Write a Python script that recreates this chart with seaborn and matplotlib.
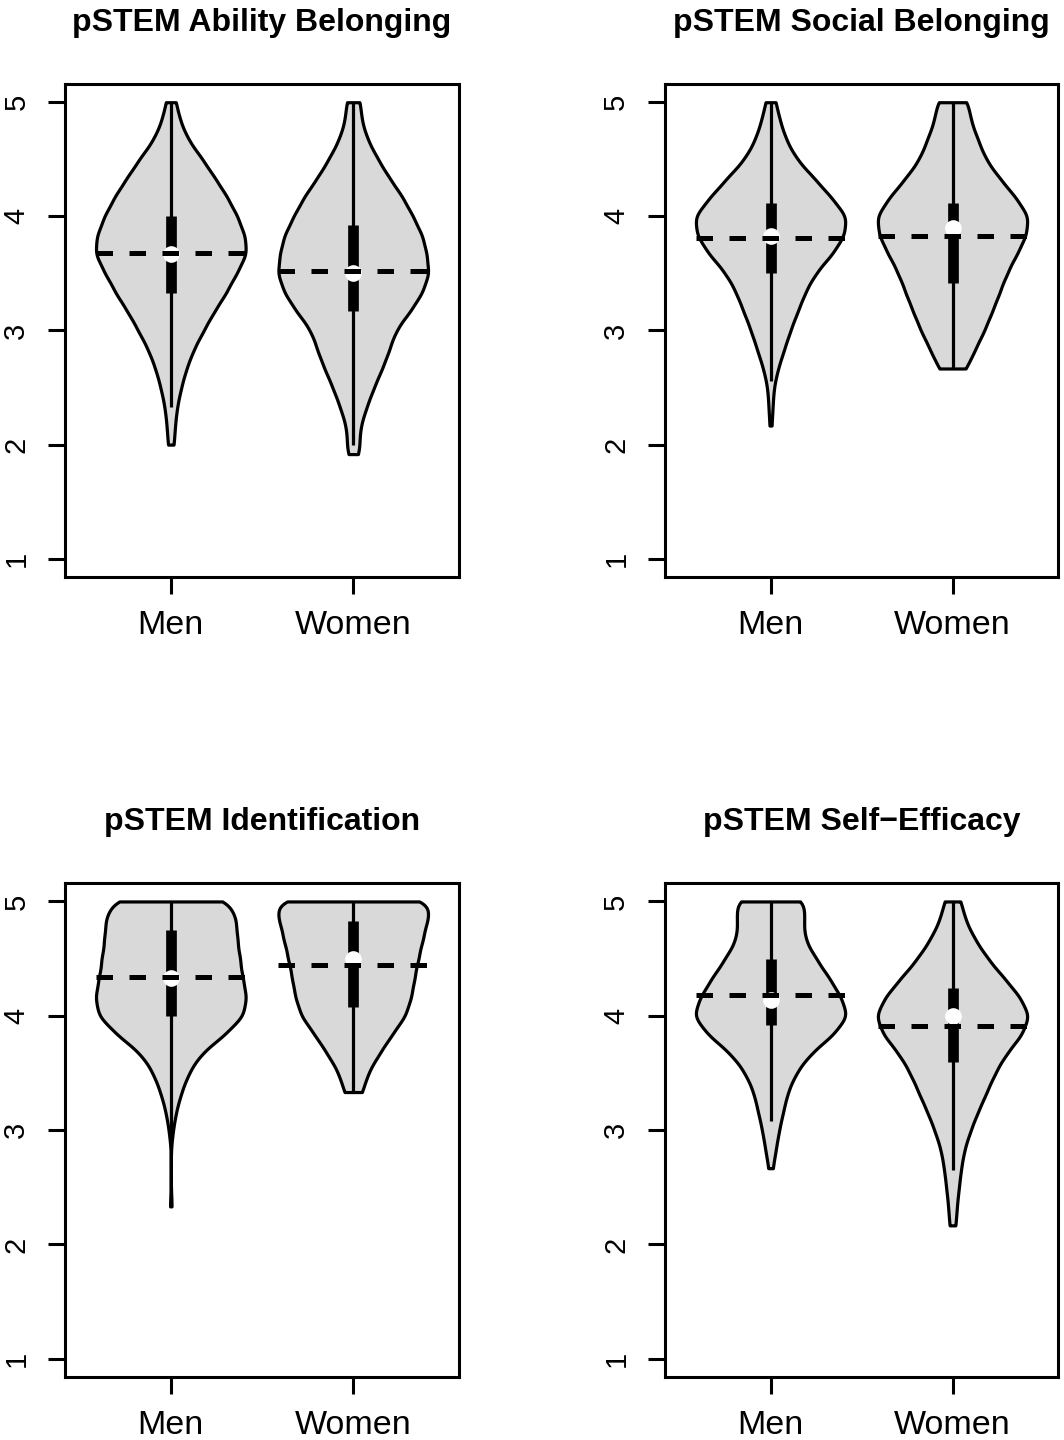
import numpy as np
import pandas as pd
import matplotlib
matplotlib.use("Agg")
import matplotlib.pyplot as plt
import seaborn as sns

TITLES = ["pSTEM Ability Belonging", "pSTEM Social Belonging",
          "pSTEM Identification", "pSTEM Self\u2212Efficacy"]
GROUPS = ["Men", "Women"]

# score levels (1/6 steps) and how often each one occurs
LEVELS = [5.0, 4.833, 4.667, 4.5, 4.333, 4.167, 4.0, 3.833, 3.667, 3.5,
          3.333, 3.167, 3.0, 2.833, 2.667, 2.5, 2.333, 2.167, 2.0, 1.917]

ABILITY_MEN = [5, 9, 17, 31, 43, 55, 65, 72, 74, 64, 54, 42, 32, 22, 15, 10, 6, 4, 3, 0]
ABILITY_WOMEN = [7, 8, 14, 24, 35, 48, 58, 67, 71, 74, 67, 55, 41, 35, 28, 20, 13, 7, 5, 3]
SOCIAL_MEN = [5, 9, 15, 25, 42, 58, 74, 71, 59, 43, 33, 26, 19, 13, 7, 3, 2, 1, 0, 0]
SOCIAL_WOMEN = [15, 17, 24, 31, 44, 59, 72, 69, 60, 51, 44, 37, 30, 21, 13, 0, 0, 0, 0, 0]
IDENT_MEN = [58, 62, 63, 66, 68, 72, 70, 51, 28, 17, 10, 5, 2, 0, 0, 0, 1, 0, 0, 0]
IDENT_WOMEN = [78, 71, 67, 63, 59, 56, 51, 37, 25, 14, 9, 0, 0, 0, 0, 0, 0, 0, 0, 0]
EFFICACY_MEN = [34, 31, 32, 43, 55, 66, 74, 59, 37, 24, 16, 12, 8, 5, 2, 0, 0, 0, 0, 0]
EFFICACY_WOMEN = [8, 12, 21, 33, 48, 63, 73, 65, 50, 40, 32, 24, 17, 11, 8, 6, 4, 3, 0, 0]

MEN_COUNTS = [ABILITY_MEN, SOCIAL_MEN, IDENT_MEN, EFFICACY_MEN]
WOMEN_COUNTS = [ABILITY_WOMEN, SOCIAL_WOMEN, IDENT_WOMEN, EFFICACY_WOMEN]

# summary stats per panel, [men, women]
MEANS = [[3.68, 3.52], [3.81, 3.83], [4.34, 4.44], [4.18, 3.91]]
MEDIANS = [[3.67, 3.50], [3.83, 3.90], [4.33, 4.50], [4.14, 4.00]]
Q1 = [[3.33, 3.17], [3.50, 3.42], [4.00, 4.08], [3.92, 3.60]]
Q3 = [[4.00, 3.92], [4.12, 4.12], [4.75, 4.83], [4.50, 4.24]]
WHISK_LO = [[2.33, 2.00], [2.56, 2.67], [2.92, 3.33], [3.08, 2.65]]
WHISK_HI = [[5.0, 5.0], [5.0, 5.0], [5.0, 5.0], [5.0, 5.0]]

BW = 0.1          # kde bandwidth in score units
HALF_W = 0.41     # half width of each violin
AX_POS = [[0.0611, 0.5993, 0.3703, 0.3424], [0.6250, 0.5993, 0.3694, 0.3424],
          [0.0611, 0.0437, 0.3703, 0.3430], [0.6250, 0.0437, 0.3694, 0.3430]]

sns.set_theme(style="ticks")
plt.rcParams["font.family"] = ["Liberation Sans", "DejaVu Sans"]
plt.rcParams.update({"text.color": "black", "axes.labelcolor": "black",
                     "xtick.color": "black", "ytick.color": "black",
                     "axes.edgecolor": "black"})

fig = plt.figure(figsize=(10.64, 14.4), dpi=100)

for k, title in enumerate(TITLES):
    ax = fig.add_axes(AX_POS[k])
    men = np.repeat(LEVELS, MEN_COUNTS[k])
    women = np.repeat(LEVELS, WOMEN_COUNTS[k])
    df = pd.DataFrame({
        "group": ["Men"] * len(men) + ["Women"] * len(women),
        "score": np.concatenate([men, women]),
    })
    sns.violinplot(data=df, x="group", y="score", order=GROUPS, cut=0,
                   density_norm="width", width=2 * HALF_W, inner=None,
                   color="#d9d9d9", linecolor="black", linewidth=2.3,
                   saturation=1, gridsize=300,
                   bw_method=lambda kde: BW / kde.dataset.std(ddof=1), ax=ax)

    for i in range(len(GROUPS)):
        ax.vlines(i, WHISK_LO[k][i], WHISK_HI[k][i], color="black", lw=2.3, zorder=3)
        ax.vlines(i, Q1[k][i], Q3[k][i], color="black", lw=7.7, zorder=4)
        ax.plot(i, MEDIANS[k][i], "o", color="white", ms=12, mec="none", zorder=5)
        ax.hlines(MEANS[k][i], i - HALF_W, i + HALF_W, color="black", lw=3.6,
                  linestyles=(0, (3.3, 3.3)), zorder=6)

    ax.set_xlim(-0.58, 1.58)
    ax.set_ylim(0.84, 5.16)
    ax.set_xlabel("")
    ax.set_ylabel("")
    ax.set_yticks([1, 2, 3, 4, 5])
    ax.set_yticklabels(["1", "2", "3", "4", "5"], rotation=90, va="center")
    ax.tick_params(axis="both", length=12, width=2.2, color="black",
                   labelcolor="black", direction="out")
    ax.tick_params(axis="y", labelsize=21, pad=13)
    ax.tick_params(axis="x", labelsize=24.5, pad=12)
    for s in ax.spines.values():
        s.set_visible(True)
        s.set_linewidth(2.2)
        s.set_color("black")
    ax.set_title(title, fontsize=23, fontweight="bold", pad=38, color="black")

fig.savefig("out.png", dpi=100)
